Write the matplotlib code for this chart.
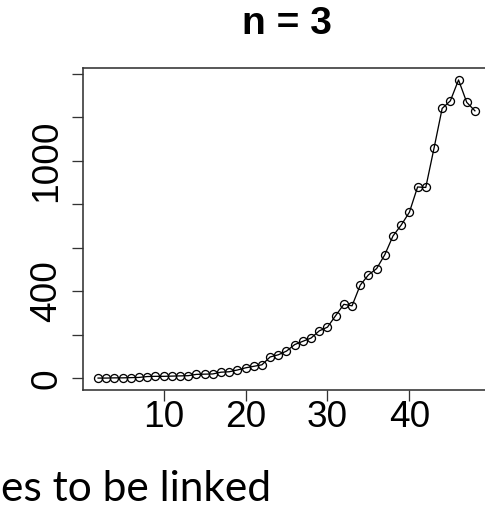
import matplotlib
matplotlib.use("Agg")
import matplotlib.pyplot as plt

# counts per step
steps = list(range(2, 49))
counts = [1, 1, 2, 2, 3, 4, 8, 9, 9, 10, 11, 12, 18, 19, 20, 28, 30, 38, 48,
          55, 62, 98, 108, 125, 155, 170, 185, 218, 235, 288, 340, 333, 428,
          475, 504, 568, 654, 704, 763, 879, 877, 1056, 1240, 1275, 1371,
          1268, 1229]

y_ticks = [0, 200, 400, 600, 800, 1000, 1200, 1400]
y_labels = ["0", "", "400", "", "", "1000", "", ""]
x_ticks = [10, 20, 30, 40]

title = "n = 3"
caption = "es to be linked"

W, H = 485, 513
fig = plt.figure(figsize=(W / 72, H / 72), dpi=72)
ax = fig.add_axes([83 / W, 1 - 390 / H, (490 - 83) / W, (390 - 68) / H])

ax.plot(steps, counts, color="black", linewidth=1.3, marker="o",
        markersize=8, markerfacecolor="none", markeredgewidth=1.3)

# R style range: 4% padding on both sides
xr = max(steps) - min(steps)
yr = max(counts) - min(counts)
ax.set_xlim(min(steps) - 0.04 * xr, max(steps) + 0.04 * xr)
ax.set_ylim(min(counts) - 0.04 * yr, max(counts) + 0.04 * yr)

ax.set_xticks(x_ticks)
ax.set_yticks(y_ticks)
ax.set_yticklabels(y_labels, rotation=90, va="center")

for s in ax.spines.values():
    s.set_color("#333333")
    s.set_linewidth(1.6)

ax.tick_params(axis="both", direction="out", length=11, width=1.3,
               color="#333333", labelsize=37)
ax.tick_params(axis="x", pad=-1)
ax.tick_params(axis="y", pad=8)
for lab in ax.get_xticklabels() + ax.get_yticklabels():
    lab.set_fontfamily("Liberation Sans")

fig.text((83 + 490) / 2 / W, 1 - 34.5 / H, title, ha="center",
         va="baseline", fontsize=39, fontweight="bold",
         fontfamily="Liberation Sans")

fig.text(1 / W, 1 - 501 / H, caption, ha="left", va="baseline",
         fontsize=42.5, fontfamily="Lato")

fig.savefig("out.png", dpi=72)
